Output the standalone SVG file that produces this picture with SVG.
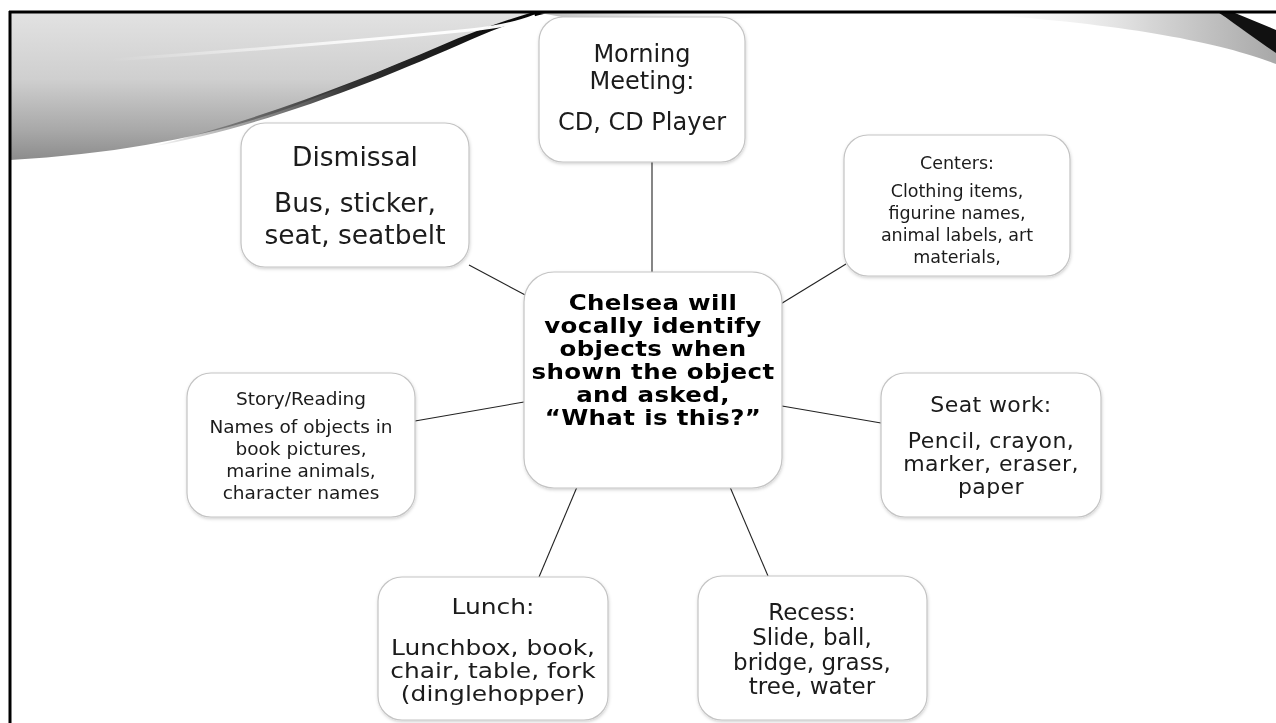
<svg xmlns="http://www.w3.org/2000/svg" width="1276" height="723" viewBox="0 0 1276 723">
<defs>
<style>
.box{fill:#ffffff;stroke:#c4c4c4;stroke-width:1.2}
.t{font-family:"DejaVu Sans","Liberation Sans",sans-serif;fill:#1a1a1a;text-anchor:middle}
.b{font-weight:bold;fill:#000}
.c{stroke:#222;stroke-width:1.1;fill:none}
</style>
<linearGradient id="band" x1="0" y1="0" x2="0" y2="1">
<stop offset="0" stop-color="#e2e2e2"/>
<stop offset="0.45" stop-color="#cfcfcf"/>
<stop offset="0.8" stop-color="#a8a8a8"/>
<stop offset="1" stop-color="#8c8c8c"/>
</linearGradient>
<linearGradient id="edge" x1="0" y1="0" x2="1" y2="0">
<stop offset="0" stop-color="#000" stop-opacity="0"/>
<stop offset="0.5" stop-color="#000" stop-opacity="0.8"/>
<stop offset="1" stop-color="#000" stop-opacity="1"/>
</linearGradient>
<linearGradient id="hl" x1="0" y1="0" x2="1" y2="0">
<stop offset="0" stop-color="#fff" stop-opacity="0"/>
<stop offset="0.6" stop-color="#fff" stop-opacity="0.9"/>
<stop offset="1" stop-color="#fff" stop-opacity="1"/>
</linearGradient>
<linearGradient id="rgray" x1="0" y1="0" x2="1" y2="0">
<stop offset="0" stop-color="#ffffff" stop-opacity="0"/>
<stop offset="0.6" stop-color="#d6d6d6"/>
<stop offset="1" stop-color="#a8a8a8"/>
</linearGradient>
<linearGradient id="topfade" x1="0" y1="0" x2="1" y2="0">
<stop offset="0" stop-color="#bdbdbd"/>
<stop offset="1" stop-color="#ffffff" stop-opacity="0"/>
</linearGradient>
<filter id="sh" x="-10%" y="-10%" width="120%" height="130%">
<feDropShadow dx="0.5" dy="1.5" stdDeviation="1.5" flood-color="#000" flood-opacity="0.18"/>
</filter>
</defs>
<rect width="1276" height="723" fill="#fff"/>
<g id="decor">
<path d="M10,13 L545,13 C480,28 410,58 330,92 C250,126 150,152 10,160 Z" fill="url(#band)"/>
<path d="M150,147 C260,128 380,80 470,40 C500,27 525,18 548,13 L530,13 C500,22 470,33 440,46 C360,80 260,120 150,147 Z" fill="url(#edge)"/>
<path d="M110,60 C250,50 370,40 470,30 C500,27 520,22 535,16" stroke="url(#hl)" stroke-width="3" fill="none"/>
<path d="M540,13 L800,13 C760,18 700,22 600,24 Z" fill="url(#topfade)"/>
<path d="M960,13 L1219,13 L1276,52 L1276,64 C1230,46 1140,24 960,13 Z" fill="url(#rgray)"/>
<path d="M1219,13 L1235,13 L1276,30 L1276,53 C1262,44 1240,27 1219,13 Z" fill="#111"/>
<path d="M9,12 H1276" stroke="#000" stroke-width="3"/>
<path d="M10,11 V723" stroke="#000" stroke-width="3"/>
</g>
<g id="connectors">
<line class="c" x1="652" y1="162" x2="652" y2="272"/>
<line class="c" x1="469" y1="265" x2="529" y2="297"/>
<line class="c" x1="846" y1="264" x2="779" y2="305"/>
<line class="c" x1="415" y1="421" x2="524" y2="402"/>
<line class="c" x1="782" y1="406" x2="881" y2="423"/>
<line class="c" x1="577" y1="487" x2="539" y2="577"/>
<line class="c" x1="730" y1="487" x2="768" y2="576"/>
</g>
<g id="node-morning" filter="url(#sh)">
<rect class="box" x="539" y="17" width="206" height="145" rx="24"/>
<text class="t" font-size="24"><tspan x="642" y="62">Morning</tspan><tspan x="642" y="89">Meeting:</tspan><tspan x="642" y="130">CD, CD Player</tspan></text>
</g>
<g id="node-dismissal" filter="url(#sh)">
<rect class="box" x="241" y="123" width="228" height="144" rx="24"/>
<text class="t" font-size="26.5"><tspan x="355" y="166">Dismissal</tspan><tspan x="355" y="212">Bus, sticker,</tspan><tspan x="355" y="244">seat, seatbelt</tspan></text>
</g>
<g id="node-centers" filter="url(#sh)">
<rect class="box" x="844" y="135" width="226" height="141" rx="24"/>
<text class="t" font-size="17.5"><tspan x="957" y="169">Centers:</tspan><tspan x="957" y="197">Clothing items,</tspan><tspan x="957" y="219">figurine names,</tspan><tspan x="957" y="241">animal labels, art</tspan><tspan x="957" y="263">materials,</tspan></text>
</g>
<g id="node-center" filter="url(#sh)">
<rect class="box" x="524" y="272" width="258" height="216" rx="30"/>
<text class="t b" font-size="21.5" letter-spacing="0.3" transform="translate(653,0) scale(1.14,1)"><tspan x="0" y="310">Chelsea will</tspan><tspan x="0" y="333">vocally identify</tspan><tspan x="0" y="356">objects when</tspan><tspan x="0" y="379">shown the object</tspan><tspan x="0" y="402">and asked,</tspan><tspan x="0" y="425">“What is this?”</tspan></text>
</g>
<g id="node-story" filter="url(#sh)">
<rect class="box" x="187" y="373" width="228" height="144" rx="24"/>
<text class="t" font-size="18.5"><tspan x="301" y="405">Story/Reading</tspan><tspan x="301" y="433">Names of objects in</tspan><tspan x="301" y="455">book pictures,</tspan><tspan x="301" y="477">marine animals,</tspan><tspan x="301" y="499">character names</tspan></text>
</g>
<g id="node-seatwork" filter="url(#sh)">
<rect class="box" x="881" y="373" width="220" height="144" rx="24"/>
<text class="t" font-size="22" letter-spacing="0.4"><tspan x="991" y="412">Seat work:</tspan><tspan x="991" y="448">Pencil, crayon,</tspan><tspan x="991" y="471">marker, eraser,</tspan><tspan x="991" y="494">paper</tspan></text>
</g>
<g id="node-lunch" filter="url(#sh)">
<rect class="box" x="378" y="577" width="230" height="143" rx="24"/>
<text class="t" font-size="21.5" transform="translate(493,0) scale(1.16,1)"><tspan x="0" y="614">Lunch:</tspan><tspan x="0" y="655">Lunchbox, book,</tspan><tspan x="0" y="678">chair, table, fork</tspan><tspan x="0" y="701">(dinglehopper)</tspan></text>
</g>
<g id="node-recess" filter="url(#sh)">
<rect class="box" x="698" y="576" width="229" height="144" rx="24"/>
<text class="t" font-size="23"><tspan x="812" y="620">Recess:</tspan><tspan x="812" y="645">Slide, ball,</tspan><tspan x="812" y="670">bridge, grass,</tspan><tspan x="812" y="694">tree, water</tspan></text>
</g>
</svg>
